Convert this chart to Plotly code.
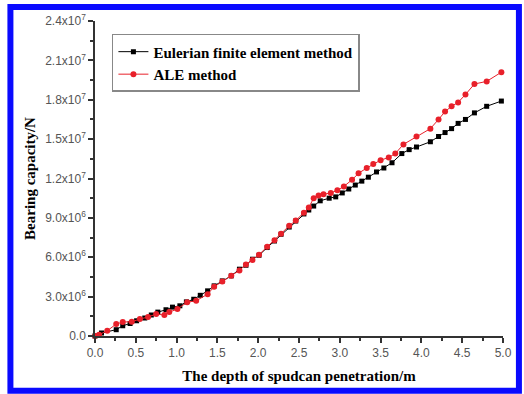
import plotly.graph_objects as go

euler_x = [0.0, 0.08, 0.26, 0.34, 0.43, 0.51, 0.61, 0.69, 0.77, 0.87, 0.95, 1.04, 1.12, 1.21, 1.29, 1.38,
           1.46, 1.56, 1.67, 1.77, 1.85, 1.93, 2.01, 2.11, 2.20, 2.28, 2.38, 2.46, 2.56, 2.62, 2.68, 2.76,
           2.87, 2.95, 3.03, 3.11, 3.19, 3.27, 3.35, 3.45, 3.54, 3.64, 3.76, 3.85, 3.94, 4.11, 4.21, 4.29,
           4.37, 4.45, 4.54, 4.65, 4.80, 4.98]
euler_y = [0, 2.3e5, 4.8e5, 7.8e5, 9.5e5, 1.16e6, 1.37e6, 1.6e6, 1.82e6, 2.0e6, 2.2e6, 2.3e6, 2.6e6, 2.8e6,
           3.1e6, 3.44e6, 3.82e6, 4.2e6, 4.58e6, 5.09e6, 5.39e6, 5.85e6, 6.15e6, 6.74e6, 7.24e6, 7.75e6,
           8.3e6, 8.76e6, 9.3e6, 9.6e6, 9.9e6, 1.03e7, 1.05e7, 1.06e7, 1.09e7, 1.12e7, 1.15e7, 1.18e7,
           1.21e7, 1.25e7, 1.28e7, 1.32e7, 1.39e7, 1.42e7, 1.44e7, 1.48e7, 1.52e7, 1.55e7, 1.58e7, 1.62e7,
           1.65e7, 1.70e7, 1.75e7, 1.79e7]

ale_x = [0.0, 0.05, 0.15, 0.26, 0.34, 0.45, 0.55, 0.65, 0.75, 0.85, 0.91, 1.01, 1.13, 1.24, 1.38, 1.46,
         1.56, 1.67, 1.77, 1.85, 1.93, 2.01, 2.11, 2.20, 2.28, 2.38, 2.46, 2.56, 2.62, 2.68, 2.74, 2.80,
         2.89, 2.97, 3.05, 3.15, 3.23, 3.33, 3.41, 3.50, 3.60, 3.68, 3.78, 3.94, 4.11, 4.21, 4.29, 4.37,
         4.45, 4.54, 4.65, 4.80, 4.98]
ale_y = [0, 1e5, 4e5, 9.1e5, 1.06e6, 1.09e6, 1.29e6, 1.45e6, 1.67e6, 1.6e6, 1.82e6, 2.05e6, 2.58e6, 2.68e6,
         3.19e6, 3.75e6, 4.15e6, 4.6e6, 5.0e6, 5.45e6, 5.8e6, 6.2e6, 6.8e6, 7.3e6, 7.8e6, 8.4e6, 8.8e6,
         9.4e6, 9.8e6, 1.05e7, 1.07e7, 1.08e7, 1.09e7, 1.11e7, 1.14e7, 1.19e7, 1.24e7, 1.28e7, 1.31e7,
         1.34e7, 1.36e7, 1.39e7, 1.46e7, 1.52e7, 1.58e7, 1.65e7, 1.71e7, 1.75e7, 1.78e7, 1.84e7, 1.92e7,
         1.94e7, 2.01e7]

x_ticks = [0.0, 0.5, 1.0, 1.5, 2.0, 2.5, 3.0, 3.5, 4.0, 4.5, 5.0]
x_tick_text = ["0.0", "0.5", "1.0", "1.5", "2.0", "2.5", "3.0", "3.5", "4.0", "4.5", "5.0"]
y_ticks = [0, 3e6, 6e6, 9e6, 1.2e7, 1.5e7, 1.8e7, 2.1e7, 2.4e7]
y_tick_text = ["0.0", "3.0x10<sup>6</sup>", "6.0x10<sup>6</sup>", "9.0x10<sup>6</sup>",
               "1.2x10<sup>7</sup>", "1.5x10<sup>7</sup>", "1.8x10<sup>7</sup>",
               "2.1x10<sup>7</sup>", "2.4x10<sup>7</sup>"]

W, H = 524, 394
L, R, T, B = 95, 19, 20, 57
pw, ph = W - L - R, H - T - B

def px(xp):
    return (xp - L) / pw

def py(yp):
    return (H - B - yp) / ph

fig = go.Figure()
fig.add_trace(go.Scatter(x=euler_x, y=euler_y, mode="lines+markers", name="<b>Eulerian finite element method</b>",
                         line=dict(color="black", width=1),
                         marker=dict(symbol="square", size=5, color="black"), cliponaxis=False))
fig.add_trace(go.Scatter(x=ale_x, y=ale_y, mode="lines+markers", name="<b>ALE method</b>",
                         line=dict(color="#e8202a", width=1),
                         marker=dict(symbol="circle", size=6, color="#e8202a"), cliponaxis=False))

tick_font = dict(family="Liberation Sans, Arial", size=12, color="#555555")
title_font = dict(family="Liberation Serif, Times New Roman", size=15, color="black")

fig.update_xaxes(range=[0, 5], tickvals=x_ticks, ticktext=x_tick_text, ticks="outside", ticklen=5,
                 tickwidth=1.5, tickcolor="#333", showline=True, linecolor="#333", linewidth=1.5,
                 showgrid=False, zeroline=False, tickfont=tick_font,
                 minor=dict(ticks="outside", ticklen=3, tickwidth=1.5, tickcolor="#333", dtick=0.25, tick0=0, showgrid=False),
                 title=dict(text="<b>The depth of spudcan penetration/m</b>", font=title_font, standoff=11))
fig.update_yaxes(range=[0, 2.4e7], tickvals=y_ticks, ticktext=y_tick_text, ticks="outside", ticklen=5,
                 tickwidth=1.5, tickcolor="#333", showline=True, linecolor="#333", linewidth=1.5,
                 showgrid=False, zeroline=False, tickfont=tick_font,
                 minor=dict(ticks="outside", ticklen=3, tickwidth=1.5, tickcolor="#333", dtick=1.5e6, tick0=0, showgrid=False),
                 title=dict(text="<b>Bearing capacity/N</b>", font=title_font, standoff=6))

fig.add_shape(type="rect", xref="paper", yref="paper",
              x0=px(10), x1=px(521), y0=py(392), y1=py(6),
              line=dict(color="#0a0aff", width=6), fillcolor="rgba(0,0,0,0)", layer="above")

fig.update_layout(
    width=W, height=H, margin=dict(l=L, r=R, t=T, b=B),
    paper_bgcolor="white", plot_bgcolor="white",
    legend=dict(x=px(112), y=py(33), xanchor="left", yanchor="top",
                bordercolor="#888888", borderwidth=1.5, bgcolor="white",
                font=dict(family="Liberation Serif, Times New Roman", size=15, color="black"),
                tracegroupgap=0, itemwidth=30),
)

fig.write_html("out.html", config={"displayModeBar": False},
               post_script="document.body.style.margin='0';document.body.style.overflow='hidden';")
